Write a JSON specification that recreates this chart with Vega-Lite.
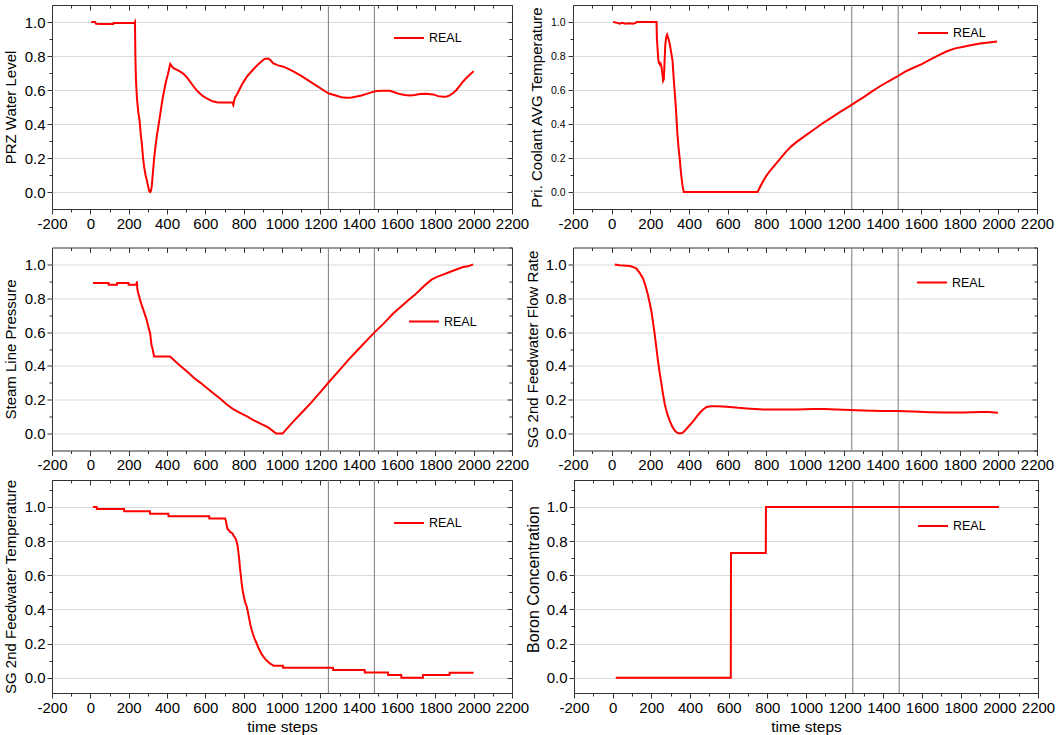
{
  "$schema": "https://vega.github.io/schema/vega-lite/v6.json",
  "background": "white",
  "padding": {"left": 2, "top": 4, "right": 0, "bottom": 0},
  "datasets": {
    "vlines": [{"t": 1242}, {"t": 1482}],
    "series": [
      {"s":"prz","t":5,"v":1.0},{"s":"prz","t":25,"v":1.0},{"s":"prz","t":30,"v":0.99},{"s":"prz","t":60,"v":0.988},{"s":"prz","t":120,"v":0.988},{"s":"prz","t":122,"v":0.994},{"s":"prz","t":230,"v":0.994},{"s":"prz","t":233,"v":1.0},{"s":"prz","t":235,"v":0.8},{"s":"prz","t":238,"v":0.66},{"s":"prz","t":243,"v":0.556},{"s":"prz","t":250,"v":0.47},{"s":"prz","t":257,"v":0.42},{"s":"prz","t":263,"v":0.34},{"s":"prz","t":269,"v":0.283},{"s":"prz","t":275,"v":0.2},{"s":"prz","t":281,"v":0.146},{"s":"prz","t":288,"v":0.1},{"s":"prz","t":295,"v":0.068},{"s":"prz","t":302,"v":0.03},{"s":"prz","t":308,"v":0.003},{"s":"prz","t":312,"v":0.0},{"s":"prz","t":317,"v":0.01},{"s":"prz","t":321,"v":0.04},{"s":"prz","t":327,"v":0.12},{"s":"prz","t":333,"v":0.2},{"s":"prz","t":340,"v":0.27},{"s":"prz","t":347,"v":0.33},{"s":"prz","t":354,"v":0.38},{"s":"prz","t":361,"v":0.43},{"s":"prz","t":369,"v":0.49},{"s":"prz","t":377,"v":0.55},{"s":"prz","t":384,"v":0.59},{"s":"prz","t":390,"v":0.625},{"s":"prz","t":397,"v":0.66},{"s":"prz","t":404,"v":0.69},{"s":"prz","t":410,"v":0.72},{"s":"prz","t":417,"v":0.753},{"s":"prz","t":425,"v":0.74},{"s":"prz","t":434,"v":0.728},{"s":"prz","t":450,"v":0.72},{"s":"prz","t":469,"v":0.708},{"s":"prz","t":486,"v":0.695},{"s":"prz","t":503,"v":0.676},{"s":"prz","t":520,"v":0.65},{"s":"prz","t":538,"v":0.622},{"s":"prz","t":555,"v":0.598},{"s":"prz","t":573,"v":0.578},{"s":"prz","t":590,"v":0.562},{"s":"prz","t":608,"v":0.55},{"s":"prz","t":625,"v":0.54},{"s":"prz","t":642,"v":0.532},{"s":"prz","t":660,"v":0.528},{"s":"prz","t":677,"v":0.526},{"s":"prz","t":740,"v":0.527},{"s":"prz","t":743,"v":0.52},{"s":"prz","t":746,"v":0.512},{"s":"prz","t":749,"v":0.53},{"s":"prz","t":755,"v":0.556},{"s":"prz","t":768,"v":0.58},{"s":"prz","t":781,"v":0.61},{"s":"prz","t":798,"v":0.645},{"s":"prz","t":816,"v":0.677},{"s":"prz","t":833,"v":0.7},{"s":"prz","t":851,"v":0.722},{"s":"prz","t":868,"v":0.742},{"s":"prz","t":885,"v":0.76},{"s":"prz","t":900,"v":0.775},{"s":"prz","t":911,"v":0.784},{"s":"prz","t":929,"v":0.785},{"s":"prz","t":940,"v":0.775},{"s":"prz","t":955,"v":0.756},{"s":"prz","t":980,"v":0.745},{"s":"prz","t":1007,"v":0.737},{"s":"prz","t":1033,"v":0.724},{"s":"prz","t":1059,"v":0.71},{"s":"prz","t":1094,"v":0.688},{"s":"prz","t":1129,"v":0.663},{"s":"prz","t":1163,"v":0.638},{"s":"prz","t":1198,"v":0.612},{"s":"prz","t":1222,"v":0.594},{"s":"prz","t":1245,"v":0.579},{"s":"prz","t":1285,"v":0.566},{"s":"prz","t":1310,"v":0.558},{"s":"prz","t":1337,"v":0.555},{"s":"prz","t":1363,"v":0.556},{"s":"prz","t":1389,"v":0.562},{"s":"prz","t":1415,"v":0.568},{"s":"prz","t":1441,"v":0.577},{"s":"prz","t":1467,"v":0.586},{"s":"prz","t":1493,"v":0.594},{"s":"prz","t":1528,"v":0.596},{"s":"prz","t":1563,"v":0.595},{"s":"prz","t":1590,"v":0.585},{"s":"prz","t":1615,"v":0.576},{"s":"prz","t":1640,"v":0.57},{"s":"prz","t":1667,"v":0.567},{"s":"prz","t":1693,"v":0.571},{"s":"prz","t":1719,"v":0.577},{"s":"prz","t":1750,"v":0.578},{"s":"prz","t":1788,"v":0.574},{"s":"prz","t":1815,"v":0.564},{"s":"prz","t":1840,"v":0.56},{"s":"prz","t":1860,"v":0.562},{"s":"prz","t":1875,"v":0.568},{"s":"prz","t":1893,"v":0.582},{"s":"prz","t":1910,"v":0.6},{"s":"prz","t":1928,"v":0.625},{"s":"prz","t":1945,"v":0.65},{"s":"prz","t":1963,"v":0.672},{"s":"prz","t":1980,"v":0.69},{"s":"prz","t":2000,"v":0.711},

      {"s":"pc","t":7,"v":1.0},{"s":"pc","t":30,"v":0.995},{"s":"pc","t":40,"v":0.99},{"s":"pc","t":55,"v":0.995},{"s":"pc","t":70,"v":0.99},{"s":"pc","t":90,"v":0.993},{"s":"pc","t":110,"v":0.99},{"s":"pc","t":125,"v":0.995},{"s":"pc","t":130,"v":1.0},{"s":"pc","t":232,"v":1.0},{"s":"pc","t":234,"v":0.9},{"s":"pc","t":237,"v":0.85},{"s":"pc","t":241,"v":0.78},{"s":"pc","t":245,"v":0.76},{"s":"pc","t":250,"v":0.75},{"s":"pc","t":253,"v":0.755},{"s":"pc","t":257,"v":0.74},{"s":"pc","t":262,"v":0.7},{"s":"pc","t":266,"v":0.655},{"s":"pc","t":270,"v":0.665},{"s":"pc","t":273,"v":0.75},{"s":"pc","t":277,"v":0.86},{"s":"pc","t":282,"v":0.91},{"s":"pc","t":287,"v":0.926},{"s":"pc","t":294,"v":0.9},{"s":"pc","t":301,"v":0.867},{"s":"pc","t":308,"v":0.82},{"s":"pc","t":315,"v":0.77},{"s":"pc","t":319,"v":0.7},{"s":"pc","t":323,"v":0.634},{"s":"pc","t":328,"v":0.56},{"s":"pc","t":332,"v":0.497},{"s":"pc","t":336,"v":0.42},{"s":"pc","t":340,"v":0.341},{"s":"pc","t":346,"v":0.26},{"s":"pc","t":353,"v":0.185},{"s":"pc","t":357,"v":0.13},{"s":"pc","t":361,"v":0.088},{"s":"pc","t":366,"v":0.04},{"s":"pc","t":373,"v":0.0},{"s":"pc","t":755,"v":0.0},{"s":"pc","t":770,"v":0.035},{"s":"pc","t":784,"v":0.065},{"s":"pc","t":800,"v":0.095},{"s":"pc","t":819,"v":0.125},{"s":"pc","t":845,"v":0.16},{"s":"pc","t":871,"v":0.195},{"s":"pc","t":900,"v":0.235},{"s":"pc","t":930,"v":0.27},{"s":"pc","t":957,"v":0.295},{"s":"pc","t":1000,"v":0.33},{"s":"pc","t":1043,"v":0.365},{"s":"pc","t":1086,"v":0.4},{"s":"pc","t":1129,"v":0.432},{"s":"pc","t":1180,"v":0.47},{"s":"pc","t":1233,"v":0.507},{"s":"pc","t":1270,"v":0.535},{"s":"pc","t":1302,"v":0.557},{"s":"pc","t":1345,"v":0.59},{"s":"pc","t":1388,"v":0.622},{"s":"pc","t":1430,"v":0.65},{"s":"pc","t":1475,"v":0.678},{"s":"pc","t":1518,"v":0.708},{"s":"pc","t":1561,"v":0.731},{"s":"pc","t":1604,"v":0.752},{"s":"pc","t":1647,"v":0.778},{"s":"pc","t":1690,"v":0.804},{"s":"pc","t":1734,"v":0.828},{"s":"pc","t":1777,"v":0.845},{"s":"pc","t":1820,"v":0.855},{"s":"pc","t":1863,"v":0.865},{"s":"pc","t":1906,"v":0.873},{"s":"pc","t":1950,"v":0.879},{"s":"pc","t":1993,"v":0.885},

      {"s":"sp","t":14,"v":0.89},{"s":"sp","t":95,"v":0.89},{"s":"sp","t":96,"v":0.88},{"s":"sp","t":139,"v":0.88},{"s":"sp","t":140,"v":0.89},{"s":"sp","t":199,"v":0.89},{"s":"sp","t":200,"v":0.88},{"s":"sp","t":241,"v":0.88},{"s":"sp","t":243,"v":0.9},{"s":"sp","t":245,"v":0.86},{"s":"sp","t":248,"v":0.838},{"s":"sp","t":255,"v":0.81},{"s":"sp","t":260,"v":0.789},{"s":"sp","t":268,"v":0.76},{"s":"sp","t":277,"v":0.73},{"s":"sp","t":286,"v":0.7},{"s":"sp","t":294,"v":0.671},{"s":"sp","t":303,"v":0.63},{"s":"sp","t":312,"v":0.593},{"s":"sp","t":319,"v":0.524},{"s":"sp","t":325,"v":0.5},{"s":"sp","t":330,"v":0.47},{"s":"sp","t":333,"v":0.456},{"s":"sp","t":416,"v":0.456},{"s":"sp","t":440,"v":0.43},{"s":"sp","t":470,"v":0.4},{"s":"sp","t":503,"v":0.368},{"s":"sp","t":540,"v":0.33},{"s":"sp","t":575,"v":0.3},{"s":"sp","t":608,"v":0.27},{"s":"sp","t":640,"v":0.24},{"s":"sp","t":680,"v":0.205},{"s":"sp","t":712,"v":0.172},{"s":"sp","t":745,"v":0.145},{"s":"sp","t":781,"v":0.123},{"s":"sp","t":820,"v":0.1},{"s":"sp","t":850,"v":0.08},{"s":"sp","t":885,"v":0.06},{"s":"sp","t":930,"v":0.035},{"s":"sp","t":969,"v":0.0},{"s":"sp","t":1003,"v":0.0},{"s":"sp","t":1050,"v":0.06},{"s":"sp","t":1100,"v":0.12},{"s":"sp","t":1150,"v":0.18},{"s":"sp","t":1200,"v":0.245},{"s":"sp","t":1245,"v":0.305},{"s":"sp","t":1300,"v":0.375},{"s":"sp","t":1350,"v":0.44},{"s":"sp","t":1400,"v":0.5},{"s":"sp","t":1450,"v":0.56},{"s":"sp","t":1484,"v":0.6},{"s":"sp","t":1530,"v":0.65},{"s":"sp","t":1580,"v":0.71},{"s":"sp","t":1620,"v":0.75},{"s":"sp","t":1660,"v":0.79},{"s":"sp","t":1693,"v":0.82},{"s":"sp","t":1725,"v":0.855},{"s":"sp","t":1754,"v":0.885},{"s":"sp","t":1780,"v":0.91},{"s":"sp","t":1806,"v":0.925},{"s":"sp","t":1840,"v":0.94},{"s":"sp","t":1875,"v":0.955},{"s":"sp","t":1910,"v":0.97},{"s":"sp","t":1945,"v":0.985},{"s":"sp","t":1975,"v":0.99},{"s":"sp","t":1997,"v":1.0},

      {"s":"fr","t":16,"v":1.0},{"s":"fr","t":40,"v":0.995},{"s":"fr","t":59,"v":0.993},{"s":"fr","t":94,"v":0.99},{"s":"fr","t":110,"v":0.985},{"s":"fr","t":128,"v":0.975},{"s":"fr","t":145,"v":0.95},{"s":"fr","t":163,"v":0.916},{"s":"fr","t":176,"v":0.87},{"s":"fr","t":188,"v":0.818},{"s":"fr","t":197,"v":0.77},{"s":"fr","t":206,"v":0.72},{"s":"fr","t":215,"v":0.65},{"s":"fr","t":223,"v":0.583},{"s":"fr","t":232,"v":0.5},{"s":"fr","t":240,"v":0.426},{"s":"fr","t":249,"v":0.355},{"s":"fr","t":258,"v":0.289},{"s":"fr","t":266,"v":0.23},{"s":"fr","t":275,"v":0.172},{"s":"fr","t":288,"v":0.115},{"s":"fr","t":301,"v":0.074},{"s":"fr","t":314,"v":0.04},{"s":"fr","t":327,"v":0.016},{"s":"fr","t":340,"v":0.004},{"s":"fr","t":353,"v":0.0},{"s":"fr","t":366,"v":0.004},{"s":"fr","t":378,"v":0.016},{"s":"fr","t":400,"v":0.045},{"s":"fr","t":422,"v":0.074},{"s":"fr","t":440,"v":0.1},{"s":"fr","t":456,"v":0.123},{"s":"fr","t":473,"v":0.142},{"s":"fr","t":491,"v":0.157},{"s":"fr","t":515,"v":0.162},{"s":"fr","t":542,"v":0.162},{"s":"fr","t":575,"v":0.16},{"s":"fr","t":611,"v":0.157},{"s":"fr","t":655,"v":0.152},{"s":"fr","t":698,"v":0.149},{"s":"fr","t":740,"v":0.146},{"s":"fr","t":784,"v":0.143},{"s":"fr","t":870,"v":0.143},{"s":"fr","t":957,"v":0.143},{"s":"fr","t":1043,"v":0.146},{"s":"fr","t":1100,"v":0.146},{"s":"fr","t":1160,"v":0.143},{"s":"fr","t":1233,"v":0.139},{"s":"fr","t":1300,"v":0.136},{"s":"fr","t":1400,"v":0.134},{"s":"fr","t":1475,"v":0.133},{"s":"fr","t":1560,"v":0.13},{"s":"fr","t":1647,"v":0.126},{"s":"fr","t":1730,"v":0.124},{"s":"fr","t":1820,"v":0.124},{"s":"fr","t":1906,"v":0.128},{"s":"fr","t":1950,"v":0.127},{"s":"fr","t":1998,"v":0.123},

      {"s":"ft","t":14,"v":1.0},{"s":"ft","t":33,"v":1.0},{"s":"ft","t":34,"v":0.988},{"s":"ft","t":176,"v":0.988},{"s":"ft","t":177,"v":0.975},{"s":"ft","t":311,"v":0.975},{"s":"ft","t":312,"v":0.96},{"s":"ft","t":407,"v":0.96},{"s":"ft","t":408,"v":0.945},{"s":"ft","t":620,"v":0.945},{"s":"ft","t":621,"v":0.932},{"s":"ft","t":703,"v":0.932},{"s":"ft","t":708,"v":0.915},{"s":"ft","t":712,"v":0.89},{"s":"ft","t":716,"v":0.87},{"s":"ft","t":722,"v":0.865},{"s":"ft","t":728,"v":0.855},{"s":"ft","t":735,"v":0.85},{"s":"ft","t":742,"v":0.845},{"s":"ft","t":748,"v":0.83},{"s":"ft","t":755,"v":0.82},{"s":"ft","t":760,"v":0.81},{"s":"ft","t":767,"v":0.78},{"s":"ft","t":772,"v":0.74},{"s":"ft","t":777,"v":0.69},{"s":"ft","t":781,"v":0.64},{"s":"ft","t":785,"v":0.6},{"s":"ft","t":790,"v":0.55},{"s":"ft","t":795,"v":0.51},{"s":"ft","t":802,"v":0.47},{"s":"ft","t":808,"v":0.44},{"s":"ft","t":815,"v":0.42},{"s":"ft","t":821,"v":0.39},{"s":"ft","t":828,"v":0.35},{"s":"ft","t":835,"v":0.31},{"s":"ft","t":842,"v":0.28},{"s":"ft","t":850,"v":0.25},{"s":"ft","t":858,"v":0.225},{"s":"ft","t":868,"v":0.2},{"s":"ft","t":877,"v":0.175},{"s":"ft","t":886,"v":0.155},{"s":"ft","t":895,"v":0.135},{"s":"ft","t":905,"v":0.12},{"s":"ft","t":912,"v":0.11},{"s":"ft","t":920,"v":0.1},{"s":"ft","t":930,"v":0.09},{"s":"ft","t":940,"v":0.08},{"s":"ft","t":950,"v":0.075},{"s":"ft","t":956,"v":0.07},{"s":"ft","t":1005,"v":0.07},{"s":"ft","t":1006,"v":0.058},{"s":"ft","t":1266,"v":0.058},{"s":"ft","t":1267,"v":0.045},{"s":"ft","t":1431,"v":0.045},{"s":"ft","t":1432,"v":0.03},{"s":"ft","t":1553,"v":0.03},{"s":"ft","t":1554,"v":0.016},{"s":"ft","t":1622,"v":0.016},{"s":"ft","t":1623,"v":0.0},{"s":"ft","t":1735,"v":0.0},{"s":"ft","t":1736,"v":0.016},{"s":"ft","t":1874,"v":0.016},{"s":"ft","t":1875,"v":0.029},{"s":"ft","t":2000,"v":0.029},

      {"s":"bc","t":16,"v":0.0},{"s":"bc","t":611,"v":0.0},{"s":"bc","t":612,"v":0.73},{"s":"bc","t":792,"v":0.73},{"s":"bc","t":793,"v":1.0},{"s":"bc","t":1998,"v":1.0}
    ]
  },
  "vconcat": [
    {
      "hconcat": [
        {
          "width": 460, "height": 204,
          "layer": [
            {
              "data": {"name": "vlines"},
              "mark": {"type": "rule", "color": "#7a7a7a", "strokeWidth": 1},
              "encoding": {
                "x": {"field": "t", "type": "quantitative", "axis": {"orient": "top", "values": [-200,-100,0,100,200,300,400,500,600,700,800,900,1000,1100,1200,1300,1400,1500,1600,1700,1800,1900,2000,2100,2200], "labels": false, "title": null, "tickSize": {"condition": {"test": "datum.value % 200 == 0", "value": -5}, "value": -3}}},
                "y": {"datum": -0.1, "type": "quantitative", "axis": {"orient": "right", "values": [-0.1,0,0.1,0.2,0.3,0.4,0.5,0.6,0.7,0.8,0.9,1.0,1.1], "labels": false, "title": null, "tickSize": {"condition": {"test": "round(datum.value*10) % 2 == 0", "value": -5}, "value": -3}}},
                "y2": {"datum": 1.1}
              }
            },
            {
              "data": {"name": "series"},
              "transform": [{"filter": "datum.s == 'prz'"}],
              "mark": {"type": "line", "strokeWidth": 2},
              "encoding": {
                "x": {"field": "t", "type": "quantitative", "scale": {"domain": [-200, 2200], "nice": false, "zero": false}, "axis": {"orient": "bottom", "values": [-200,-100,0,100,200,300,400,500,600,700,800,900,1000,1100,1200,1300,1400,1500,1600,1700,1800,1900,2000,2100,2200], "labelExpr": "datum.value % 200 == 0 ? '' + datum.value : ''", "title": null, "tickSize": {"condition": {"test": "datum.value % 200 == 0", "value": 5}, "value": 3}}},
                "y": {"field": "v", "type": "quantitative", "scale": {"domain": [-0.1, 1.1], "nice": false, "zero": false}, "axis": {"orient": "left", "values": [0,0.1,0.2,0.3,0.4,0.5,0.6,0.7,0.8,0.9,1.0], "labelExpr": "round(datum.value*10) % 2 == 0 ? format(datum.value, '.1f') : ''", "title": "PRZ Water Level", "titlePadding": 6, "grid": true, "gridColor": "#d9d9d9", "gridOpacity": {"condition": {"test": "round(datum.value*10) % 2 == 0", "value": 1}, "value": 0}, "tickSize": {"condition": {"test": "round(datum.value*10) % 2 == 0", "value": 5}, "value": 3}}},
                "color": {"datum": "REAL", "scale": {"range": ["#ff0000"]}, "legend": {"orient": "none", "legendX": 341, "legendY": 17, "title": null, "symbolType": "stroke", "symbolSize": 900, "symbolStrokeWidth": 2}}
              }
            }
          ],
          "resolve": {"axis": {"x": "independent", "y": "independent"}}
        },
        {
          "width": 464, "height": 204,
          "layer": [
            {
              "data": {"name": "vlines"},
              "mark": {"type": "rule", "color": "#7a7a7a", "strokeWidth": 1},
              "encoding": {
                "x": {"field": "t", "type": "quantitative", "axis": {"orient": "top", "values": [-200,-100,0,100,200,300,400,500,600,700,800,900,1000,1100,1200,1300,1400,1500,1600,1700,1800,1900,2000,2100,2200], "labels": false, "title": null, "tickSize": {"condition": {"test": "datum.value % 200 == 0", "value": -5}, "value": -3}}},
                "y": {"datum": -0.1, "type": "quantitative", "axis": {"orient": "right", "values": [-0.1,0,0.1,0.2,0.3,0.4,0.5,0.6,0.7,0.8,0.9,1.0,1.1], "labels": false, "title": null, "tickSize": {"condition": {"test": "round(datum.value*10) % 2 == 0", "value": -5}, "value": -3}}},
                "y2": {"datum": 1.1}
              }
            },
            {
              "data": {"name": "series"},
              "transform": [{"filter": "datum.s == 'pc'"}],
              "mark": {"type": "line", "strokeWidth": 2},
              "encoding": {
                "x": {"field": "t", "type": "quantitative", "scale": {"domain": [-200, 2200], "nice": false, "zero": false}, "axis": {"orient": "bottom", "values": [-200,-100,0,100,200,300,400,500,600,700,800,900,1000,1100,1200,1300,1400,1500,1600,1700,1800,1900,2000,2100,2200], "labelExpr": "datum.value % 200 == 0 ? '' + datum.value : ''", "title": null, "tickSize": {"condition": {"test": "datum.value % 200 == 0", "value": 5}, "value": 3}}},
                "y": {"field": "v", "type": "quantitative", "scale": {"domain": [-0.1, 1.1], "nice": false, "zero": false}, "axis": {"orient": "left", "values": [0,0.1,0.2,0.3,0.4,0.5,0.6,0.7,0.8,0.9,1.0], "labelExpr": "round(datum.value*10) % 2 == 0 ? format(datum.value, '.1f') : ''", "labelFontSize": 10.5, "labelPadding": 3, "title": "Pri. Coolant AVG Temperature", "titlePadding": 6, "grid": true, "gridColor": "#d9d9d9", "gridOpacity": {"condition": {"test": "round(datum.value*10) % 2 == 0", "value": 1}, "value": 0}, "tickSize": {"condition": {"test": "round(datum.value*10) % 2 == 0", "value": 5}, "value": 3}}},
                "color": {"datum": "REAL", "scale": {"range": ["#ff0000"]}, "legend": {"orient": "none", "legendX": 344, "legendY": 12, "title": null, "symbolType": "stroke", "symbolSize": 900, "symbolStrokeWidth": 2}}
              }
            }
          ],
          "resolve": {"axis": {"x": "independent", "y": "independent"}}
        }
      ],
      "spacing": -2,
      "resolve": {"scale": {"color": "independent"}, "legend": {"color": "independent"}}
    },
    {
      "vconcat": [
        {
          "hconcat": [
            {
              "width": 460, "height": 203,
              "layer": [
                {
                  "data": {"name": "vlines"},
                  "mark": {"type": "rule", "color": "#7a7a7a", "strokeWidth": 1},
                  "encoding": {
                    "x": {"field": "t", "type": "quantitative", "axis": {"orient": "top", "values": [-200,-100,0,100,200,300,400,500,600,700,800,900,1000,1100,1200,1300,1400,1500,1600,1700,1800,1900,2000,2100,2200], "labels": false, "title": null, "tickSize": {"condition": {"test": "datum.value % 200 == 0", "value": -5}, "value": -3}}},
                    "y": {"datum": -0.1, "type": "quantitative", "axis": {"orient": "right", "values": [-0.1,0,0.1,0.2,0.3,0.4,0.5,0.6,0.7,0.8,0.9,1.0,1.1], "labels": false, "title": null, "tickSize": {"condition": {"test": "round(datum.value*10) % 2 == 0", "value": -5}, "value": -3}}},
                    "y2": {"datum": 1.1}
                  }
                },
                {
                  "data": {"name": "series"},
                  "transform": [{"filter": "datum.s == 'sp'"}],
                  "mark": {"type": "line", "strokeWidth": 2},
                  "encoding": {
                    "x": {"field": "t", "type": "quantitative", "scale": {"domain": [-200, 2200], "nice": false, "zero": false}, "axis": {"orient": "bottom", "values": [-200,-100,0,100,200,300,400,500,600,700,800,900,1000,1100,1200,1300,1400,1500,1600,1700,1800,1900,2000,2100,2200], "labelExpr": "datum.value % 200 == 0 ? '' + datum.value : ''", "title": null, "tickSize": {"condition": {"test": "datum.value % 200 == 0", "value": 5}, "value": 3}}},
                    "y": {"field": "v", "type": "quantitative", "scale": {"domain": [-0.1, 1.1], "nice": false, "zero": false}, "axis": {"orient": "left", "values": [0,0.1,0.2,0.3,0.4,0.5,0.6,0.7,0.8,0.9,1.0], "labelExpr": "round(datum.value*10) % 2 == 0 ? format(datum.value, '.1f') : ''", "title": "Steam Line Pressure", "titlePadding": 6, "grid": true, "gridColor": "#d9d9d9", "gridOpacity": {"condition": {"test": "round(datum.value*10) % 2 == 0", "value": 1}, "value": 0}, "tickSize": {"condition": {"test": "round(datum.value*10) % 2 == 0", "value": 5}, "value": 3}}},
                    "color": {"datum": "REAL", "scale": {"range": ["#ff0000"]}, "legend": {"orient": "none", "legendX": 356, "legendY": 58, "title": null, "symbolType": "stroke", "symbolSize": 900, "symbolStrokeWidth": 2}}
                  }
                }
              ],
              "resolve": {"axis": {"x": "independent", "y": "independent"}}
            },
            {
              "width": 464, "height": 203,
              "layer": [
                {
                  "data": {"name": "vlines"},
                  "mark": {"type": "rule", "color": "#7a7a7a", "strokeWidth": 1},
                  "encoding": {
                    "x": {"field": "t", "type": "quantitative", "axis": {"orient": "top", "values": [-200,-100,0,100,200,300,400,500,600,700,800,900,1000,1100,1200,1300,1400,1500,1600,1700,1800,1900,2000,2100,2200], "labels": false, "title": null, "tickSize": {"condition": {"test": "datum.value % 200 == 0", "value": -5}, "value": -3}}},
                    "y": {"datum": -0.1, "type": "quantitative", "axis": {"orient": "right", "values": [-0.1,0,0.1,0.2,0.3,0.4,0.5,0.6,0.7,0.8,0.9,1.0,1.1], "labels": false, "title": null, "tickSize": {"condition": {"test": "round(datum.value*10) % 2 == 0", "value": -5}, "value": -3}}},
                    "y2": {"datum": 1.1}
                  }
                },
                {
                  "data": {"name": "series"},
                  "transform": [{"filter": "datum.s == 'fr'"}],
                  "mark": {"type": "line", "strokeWidth": 2},
                  "encoding": {
                    "x": {"field": "t", "type": "quantitative", "scale": {"domain": [-200, 2200], "nice": false, "zero": false}, "axis": {"orient": "bottom", "values": [-200,-100,0,100,200,300,400,500,600,700,800,900,1000,1100,1200,1300,1400,1500,1600,1700,1800,1900,2000,2100,2200], "labelExpr": "datum.value % 200 == 0 ? '' + datum.value : ''", "title": null, "tickSize": {"condition": {"test": "datum.value % 200 == 0", "value": 5}, "value": 3}}},
                    "y": {"field": "v", "type": "quantitative", "scale": {"domain": [-0.1, 1.1], "nice": false, "zero": false}, "axis": {"orient": "left", "values": [0,0.1,0.2,0.3,0.4,0.5,0.6,0.7,0.8,0.9,1.0], "labelExpr": "round(datum.value*10) % 2 == 0 ? format(datum.value, '.1f') : ''", "title": "SG 2nd Feedwater Flow Rate", "titlePadding": 5, "grid": true, "gridColor": "#d9d9d9", "gridOpacity": {"condition": {"test": "round(datum.value*10) % 2 == 0", "value": 1}, "value": 0}, "tickSize": {"condition": {"test": "round(datum.value*10) % 2 == 0", "value": 5}, "value": 3}}},
                    "color": {"datum": "REAL", "scale": {"range": ["#ff0000"]}, "legend": {"orient": "none", "legendX": 343, "legendY": 19, "title": null, "symbolType": "stroke", "symbolSize": 900, "symbolStrokeWidth": 2}}
                  }
                }
              ],
              "resolve": {"axis": {"x": "independent", "y": "independent"}}
            }
          ],
          "spacing": -6,
          "resolve": {"scale": {"color": "independent"}, "legend": {"color": "independent"}}
        },
        {
          "hconcat": [
            {
              "width": 460, "height": 213,
              "layer": [
                {
                  "data": {"name": "vlines"},
                  "mark": {"type": "rule", "color": "#7a7a7a", "strokeWidth": 1},
                  "encoding": {
                    "x": {"field": "t", "type": "quantitative", "axis": {"orient": "top", "values": [-200,-100,0,100,200,300,400,500,600,700,800,900,1000,1100,1200,1300,1400,1500,1600,1700,1800,1900,2000,2100,2200], "labels": false, "title": null, "tickSize": {"condition": {"test": "datum.value % 200 == 0", "value": -5}, "value": -3}}},
                    "y": {"datum": -0.09, "type": "quantitative", "axis": {"orient": "right", "values": [0,0.1,0.2,0.3,0.4,0.5,0.6,0.7,0.8,0.9,1.0,1.1], "labels": false, "title": null, "tickSize": {"condition": {"test": "round(datum.value*10) % 2 == 0", "value": -5}, "value": -3}}},
                    "y2": {"datum": 1.158}
                  }
                },
                {
                  "data": {"name": "series"},
                  "transform": [{"filter": "datum.s == 'ft'"}],
                  "mark": {"type": "line", "strokeWidth": 2},
                  "encoding": {
                    "x": {"field": "t", "type": "quantitative", "scale": {"domain": [-200, 2200], "nice": false, "zero": false}, "axis": {"orient": "bottom", "values": [-200,-100,0,100,200,300,400,500,600,700,800,900,1000,1100,1200,1300,1400,1500,1600,1700,1800,1900,2000,2100,2200], "labelExpr": "datum.value % 200 == 0 ? '' + datum.value : ''", "title": "time steps", "titleFontSize": 15.5, "titlePadding": 4, "tickSize": {"condition": {"test": "datum.value % 200 == 0", "value": 5}, "value": 3}}},
                    "y": {"field": "v", "type": "quantitative", "scale": {"domain": [-0.09, 1.158], "nice": false, "zero": false}, "axis": {"orient": "left", "values": [0,0.1,0.2,0.3,0.4,0.5,0.6,0.7,0.8,0.9,1.0,1.1], "labelExpr": "round(datum.value*10) % 2 == 0 ? format(datum.value, '.1f') : ''", "title": "SG 2nd Feedwater Temperature", "titlePadding": 6, "grid": true, "gridColor": "#d9d9d9", "gridOpacity": {"condition": {"test": "round(datum.value*10) % 2 == 0", "value": 1}, "value": 0}, "tickSize": {"condition": {"test": "round(datum.value*10) % 2 == 0", "value": 5}, "value": 3}}},
                    "color": {"datum": "REAL", "scale": {"range": ["#ff0000"]}, "legend": {"orient": "none", "legendX": 341, "legendY": 27, "title": null, "symbolType": "stroke", "symbolSize": 900, "symbolStrokeWidth": 2}}
                  }
                }
              ],
              "resolve": {"axis": {"x": "independent", "y": "independent"}}
            },
            {
              "width": 464, "height": 213,
              "layer": [
                {
                  "data": {"name": "vlines"},
                  "mark": {"type": "rule", "color": "#7a7a7a", "strokeWidth": 1},
                  "encoding": {
                    "x": {"field": "t", "type": "quantitative", "axis": {"orient": "top", "values": [-200,-100,0,100,200,300,400,500,600,700,800,900,1000,1100,1200,1300,1400,1500,1600,1700,1800,1900,2000,2100,2200], "labels": false, "title": null, "tickSize": {"condition": {"test": "datum.value % 200 == 0", "value": -5}, "value": -3}}},
                    "y": {"datum": -0.09, "type": "quantitative", "axis": {"orient": "right", "values": [0,0.1,0.2,0.3,0.4,0.5,0.6,0.7,0.8,0.9,1.0,1.1], "labels": false, "title": null, "tickSize": {"condition": {"test": "round(datum.value*10) % 2 == 0", "value": -5}, "value": -3}}},
                    "y2": {"datum": 1.158}
                  }
                },
                {
                  "data": {"name": "series"},
                  "transform": [{"filter": "datum.s == 'bc'"}],
                  "mark": {"type": "line", "strokeWidth": 2},
                  "encoding": {
                    "x": {"field": "t", "type": "quantitative", "scale": {"domain": [-200, 2200], "nice": false, "zero": false}, "axis": {"orient": "bottom", "values": [-200,-100,0,100,200,300,400,500,600,700,800,900,1000,1100,1200,1300,1400,1500,1600,1700,1800,1900,2000,2100,2200], "labelExpr": "datum.value % 200 == 0 ? '' + datum.value : ''", "title": "time steps", "titleFontSize": 15.5, "titlePadding": 4, "tickSize": {"condition": {"test": "datum.value % 200 == 0", "value": 5}, "value": 3}}},
                    "y": {"field": "v", "type": "quantitative", "scale": {"domain": [-0.09, 1.158], "nice": false, "zero": false}, "axis": {"orient": "left", "values": [0,0.1,0.2,0.3,0.4,0.5,0.6,0.7,0.8,0.9,1.0,1.1], "labelExpr": "round(datum.value*10) % 2 == 0 ? format(datum.value, '.1f') : ''", "title": "Boron Concentration", "titleFontSize": 16, "titlePadding": 5, "titleY": 99, "grid": true, "gridColor": "#d9d9d9", "gridOpacity": {"condition": {"test": "round(datum.value*10) % 2 == 0", "value": 1}, "value": 0}, "tickSize": {"condition": {"test": "round(datum.value*10) % 2 == 0", "value": 5}, "value": 3}}},
                    "color": {"datum": "REAL", "scale": {"range": ["#ff0000"]}, "legend": {"orient": "none", "legendX": 343, "legendY": 30, "title": null, "symbolType": "stroke", "symbolSize": 900, "symbolStrokeWidth": 2}}
                  }
                }
              ],
              "resolve": {"axis": {"x": "independent", "y": "independent"}}
            }
          ],
          "spacing": -6,
          "resolve": {"scale": {"color": "independent"}, "legend": {"color": "independent"}}
        }
      ],
      "spacing": 4.5,
      "resolve": {"scale": {"color": "independent"}, "legend": {"color": "independent"}}
    }
  ],
  "spacing": 14.5,
  "resolve": {"scale": {"color": "independent"}, "legend": {"color": "independent"}},
  "config": {
    "font": "Liberation Sans",
    "view": {"stroke": "#333333", "strokeWidth": 1},
    "axis": {"domain": false, "grid": false, "labelFont": "Liberation Sans", "titleFont": "Liberation Sans", "labelFontSize": 15, "titleFontSize": 15, "titleFontWeight": "normal", "labelColor": "#000000", "titleColor": "#000000", "tickColor": "#333333", "tickWidth": 1, "labelPadding": 2, "labelFlush": false, "labelOverlap": false, "labelBound": false},
    "legend": {"labelFont": "Liberation Sans", "labelFontSize": 12.5, "labelColor": "#000000", "labelOffset": 4, "padding": 0}
  }
}
